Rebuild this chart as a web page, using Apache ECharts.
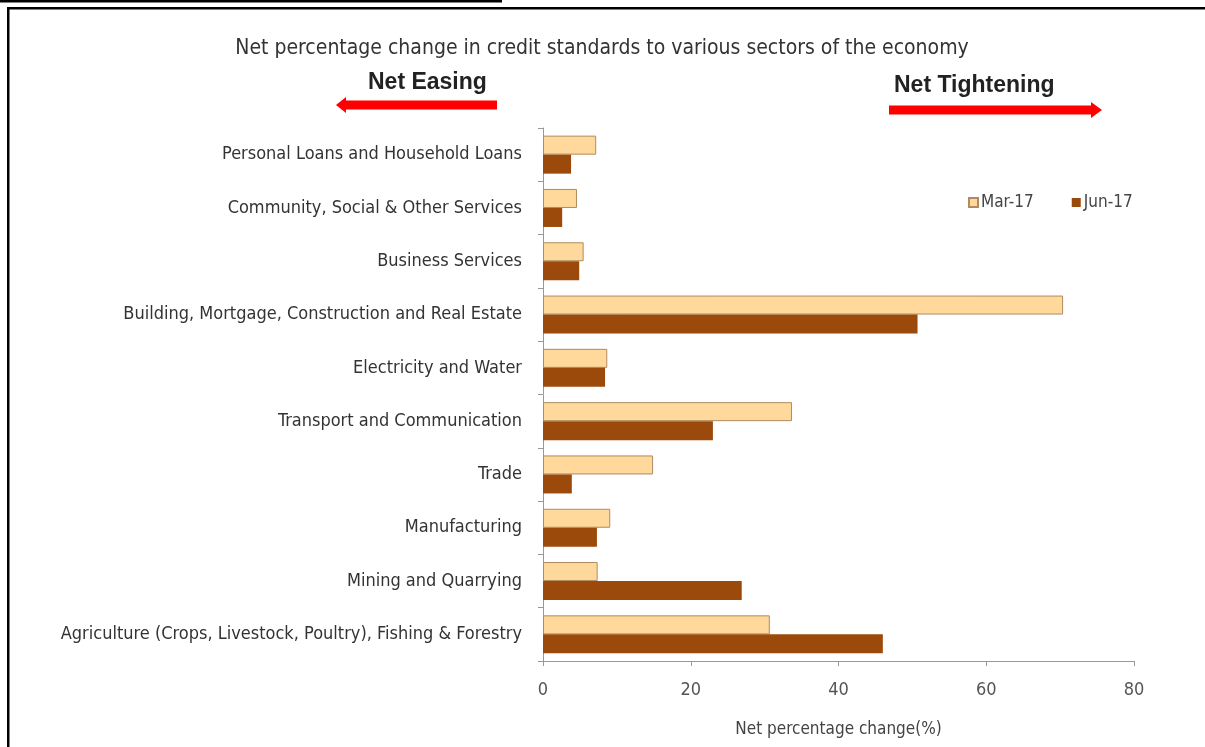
<!DOCTYPE html>
<html><head><meta charset="utf-8">
<script src="https://cdn.jsdelivr.net/npm/echarts@6/dist/echarts.min.js"></script>
<style>html,body{margin:0;padding:0;background:#fff}#c{width:1205px;height:747px}</style>
</head><body><div id="c"></div>
<script>
const categories = [
  'Personal Loans and Household Loans',
  'Community, Social & Other Services',
  'Business Services',
  'Building, Mortgage, Construction and Real Estate',
  'Electricity and Water',
  'Transport and Communication',
  'Trade',
  'Manufacturing',
  'Mining and Quarrying',
  'Agriculture (Crops, Livestock, Poultry), Fishing & Forestry'
];
const mar17 = [7.2, 4.6, 5.5, 70.4, 8.7, 33.7, 14.9, 9.1, 7.4, 30.7];
const jun17 = [3.8, 2.6, 4.9, 50.7, 8.4, 23.0, 3.9, 7.3, 26.9, 46.0];
const seriesNames = ['Mar-17', 'Jun-17'];
const xMin = 0, xMax = 80, xStep = 20;

const NARROW = "'Liberation Sans Narrow', 'Arial Narrow', 'DejaVu Sans Condensed', sans-serif";
const SANS = "'Liberation Sans', Arial, sans-serif";

const chart = echarts.init(document.getElementById('c'), null, {renderer: 'canvas'});
chart.setOption({
  animation: false,
  backgroundColor: '#fff',
  title: {
    text: 'Net percentage change in credit standards to various sectors of the economy',
    left: 597, top: 33, textAlign: 'center',
    textStyle: {fontFamily: NARROW, fontSize: 21, fontWeight: 'normal', color: '#333'}
  },
  legend: {
    data: seriesNames,
    left: 963, top: 189,
    itemWidth: 9, itemHeight: 9, itemGap: 38,
    icon: 'rect',
    textStyle: {fontFamily: NARROW, fontSize: 17, color: '#444', padding: [0,0,0,-2]}
  },
  grid: {left: 543, right: 71, top: 128, bottom: 86, containLabel: false},
  xAxis: {
    type: 'value', min: xMin, max: xMax, interval: xStep,
    name: 'Net percentage change(%)', nameLocation: 'middle', nameGap: 60,
    nameTextStyle: {fontFamily: NARROW, fontSize: 17, color: '#444'},
    axisLine: {show: true, lineStyle: {color: '#999', width: 1}},
    axisTick: {show: true, length: 5, lineStyle: {color: '#999'}},
    axisLabel: {fontFamily: NARROW, fontSize: 18, color: '#555', margin: 20},
    splitLine: {show: false}
  },
  yAxis: {
    type: 'category', data: categories, inverse: true,
    axisLine: {show: true, lineStyle: {color: '#999', width: 1}},
    axisTick: {show: true, length: 5, lineStyle: {color: '#999'}},
    axisLabel: {fontFamily: NARROW, fontSize: 18, color: '#333', margin: 21}
  },
  series: [
    {name: seriesNames[0], type: 'bar', data: mar17, barWidth: 19, barGap: '0%',
     itemStyle: {color: '#FFD99B', borderColor: '#B08a60', borderWidth: 1}},
    {name: seriesNames[1], type: 'bar', data: jun17, barWidth: 19,
     itemStyle: {color: '#9C4A0B'}}
  ],
  graphic: [
    {type: 'rect', shape: {x: 0, y: 0, width: 502, height: 2.5}, style: {fill: '#000'}},
    {type: 'rect', shape: {x: 7, y: 7, width: 1198, height: 2.5}, style: {fill: '#000'}},
    {type: 'rect', shape: {x: 7, y: 7, width: 2.5, height: 740}, style: {fill: '#000'}},
    {type: 'text', left: 368, top: 71, style: {text: 'Net Easing', fontFamily: SANS, fontWeight: 'bold', fontSize: 23, fill: '#222'}},
    {type: 'text', left: 894, top: 74, style: {text: 'Net Tightening', fontFamily: SANS, fontWeight: 'bold', fontSize: 23, fill: '#222'}},
    {type: 'polygon', shape: {points: [[336,105],[346,97],[346,100.5],[497,100.5],[497,109.5],[346,109.5],[346,113]]}, style: {fill: '#F00'}},
    {type: 'polygon', shape: {points: [[1102,110],[1091,102],[1091,105.5],[889,105.5],[889,114.5],[1091,114.5],[1091,118]]}, style: {fill: '#F00'}}
  ]
});
</script></body></html>
